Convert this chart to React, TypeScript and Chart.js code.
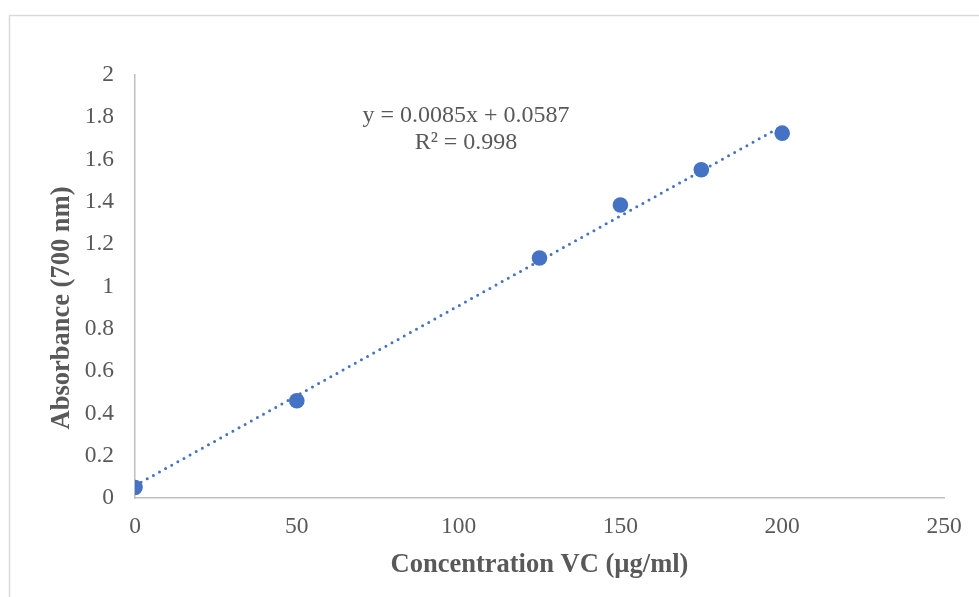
import React, { useEffect, useRef } from "react";
import { Chart, registerables } from "chart.js";

Chart.register(...registerables);

// Data
const concentrations = [0, 50, 125, 150, 175, 200];
const absorbances = [0.05, 0.46, 1.135, 1.385, 1.552, 1.725];
const trendSlope = 0.0085;
const trendIntercept = 0.0587;
const trendRangeX = [0, 200];
const equationLines = ["y = 0.0085x + 0.0587", "R² = 0.998"];
const xTickValues = [0, 50, 100, 150, 200, 250];
const yTickLabels = ["0", "0.2", "0.4", "0.6", "0.8", "1", "1.2", "1.4", "1.6", "1.8", "2"];
const xTitle = "Concentration VC (µg/ml)";
const yTitle = "Absorbance (700 nm)";

const BLUE = "#4472C4";
const TEXT = "#595959";
const AXIS = "#bfbfbf";
const SERIF = "'Liberation Serif', 'Times New Roman', serif";

export default function App() {
  const ref = useRef<HTMLCanvasElement | null>(null);

  useEffect(() => {
    if (!ref.current) return;
    const scatterData = concentrations.map((x, i) => ({ x, y: absorbances[i] }));
    const trendData = trendRangeX.map((x) => ({ x, y: trendSlope * x + trendIntercept }));

    const decor = {
      id: "decor",
      beforeDraw(chart: any) {
        const ctx = chart.ctx;
        ctx.save();
        ctx.fillStyle = "#ffffff";
        ctx.fillRect(0, 0, chart.width, chart.height);
        ctx.strokeStyle = "#d9d9d9";
        ctx.lineWidth = 1.5;
        ctx.beginPath();
        ctx.moveTo(9.5, chart.height);
        ctx.lineTo(9.5, 15.5);
        ctx.lineTo(chart.width, 15.5);
        ctx.stroke();
        ctx.restore();
      },
      afterDraw(chart: any) {
        const ctx = chart.ctx;
        ctx.save();
        ctx.fillStyle = TEXT;
        ctx.textAlign = "center";
        ctx.textBaseline = "middle";
        ctx.font = `24px ${SERIF}`;
        ctx.fillText(equationLines[0], 466, 116);
        ctx.fillText(equationLines[1], 466, 143);
        // y axis title
        ctx.font = `bold 26.5px ${SERIF}`;
        ctx.translate(62, 308);
        ctx.rotate(-Math.PI / 2);
        ctx.fillText(yTitle, 0, 0);
        ctx.restore();
      },
    };

    const chart = new Chart(ref.current, {
      type: "scatter",
      data: {
        datasets: [
          {
            label: "Trendline",
            type: "line",
            data: trendData,
            borderColor: BLUE,
            borderWidth: 3,
            borderDash: [0, 7],
            borderCapStyle: "round",
            pointRadius: 0,
            fill: false,
            order: 0,
          } as any,
          {
            label: "Absorbance",
            data: scatterData,
            backgroundColor: BLUE,
            borderColor: BLUE,
            pointRadius: 7.8,
            pointBorderWidth: 0,
            order: 1,
          },
        ],
      },
      options: {
        animation: false,
        responsive: false,
        layout: { padding: { left: 0, top: 75, right: 35, bottom: 0 } },
        plugins: {
          legend: { display: false },
          tooltip: { enabled: false },
        },
        scales: {
          x: {
            type: "linear",
            min: 0,
            max: 250,
            afterBuildTicks(scale: any) {
              scale.ticks = xTickValues.map((v) => ({ value: v }));
            },
            afterFit(scale: any) {
              scale.height = 99;
            },
            grid: { display: false, drawTicks: false },
            border: { display: true, color: AXIS, width: 1.5 },
            ticks: {
              color: TEXT,
              font: { family: SERIF, size: 23.5 },
              padding: 15,
              callback: (v: any) => String(v),
            },
            title: {
              display: true,
              text: xTitle,
              color: TEXT,
              font: { family: SERIF, size: 26.5, weight: "bold" },
              padding: { top: 0, bottom: 16 },
            },
          },
          y: {
            type: "linear",
            min: 0,
            max: 2,
            afterBuildTicks(scale: any) {
              scale.ticks = yTickLabels.map((l) => ({ value: parseFloat(l) }));
            },
            afterFit(scale: any) {
              scale.width = 135;
            },
            grid: { display: false, drawTicks: false },
            border: { display: true, color: AXIS, width: 1.5 },
            ticks: {
              color: TEXT,
              font: { family: SERIF, size: 23.5 },
              padding: 21,
              callback: (v: any, i: number) => yTickLabels[i],
            },
          },
        },
      },
      plugins: [decor],
    });
    return () => chart.destroy();
  }, []);

  return (
    <div style={{ position: "fixed", left: 0, top: 0, width: 979, height: 597 }}>
      <canvas ref={ref} width={979} height={597} style={{ display: "block", width: 979, height: 597 }} />
    </div>
  );
}
